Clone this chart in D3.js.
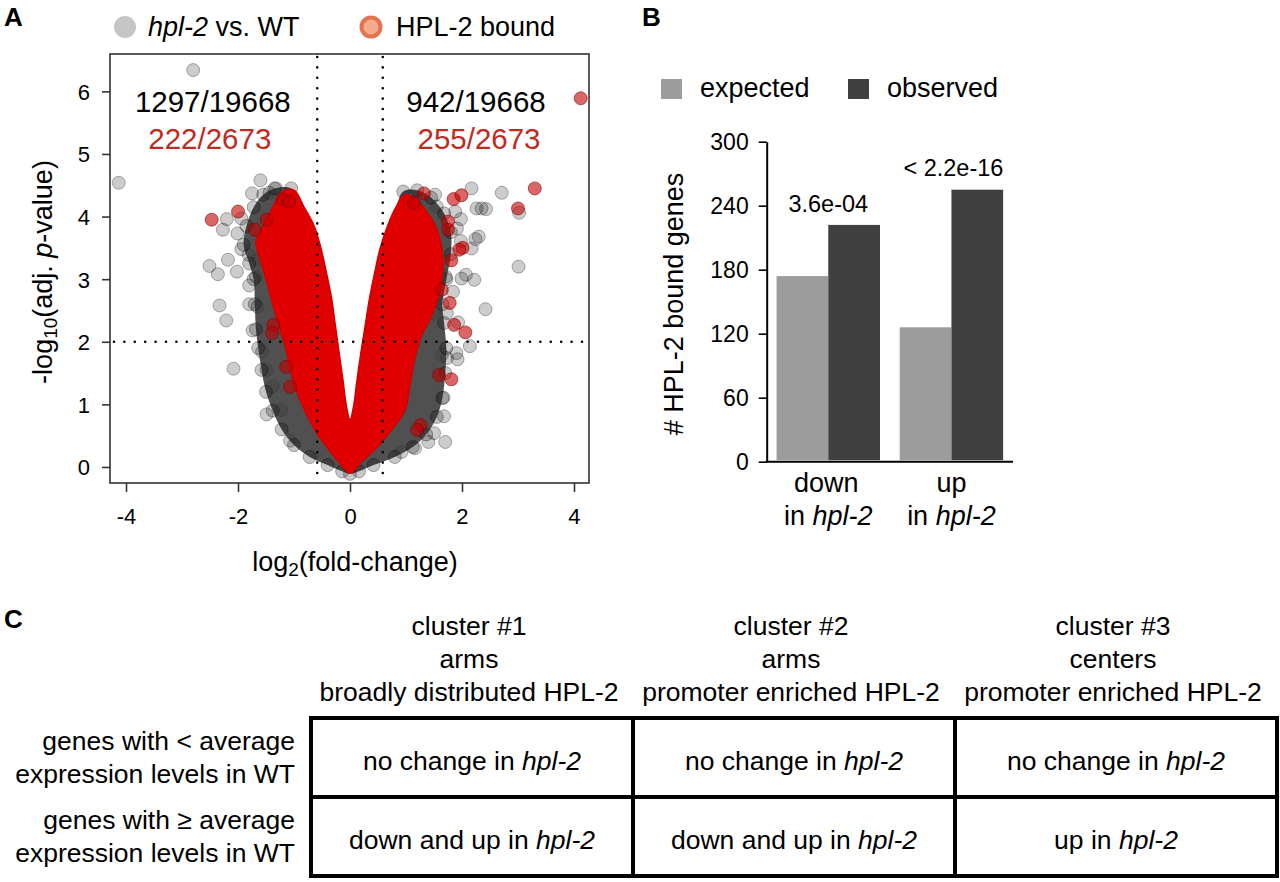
<!DOCTYPE html>
<html>
<head>
<meta charset="utf-8">
<script src="https://cdn.jsdelivr.net/npm/d3@7/dist/d3.min.js"></script>
<style>
  html, body { margin: 0; padding: 0; background: #fff; }
  svg { display: block; font-family: "Liberation Sans", Arial, Helvetica, sans-serif; }
</style>
</head>
<body>
<svg id="chart" width="1280" height="882"></svg>
<script>
// ---------------- Panel A data ----------------
const volcanoXTicks = [-4, -2, 0, 2, 4];
const volcanoYTicks = [0, 1, 2, 3, 4, 5, 6];
const foldThreshold = 0.585;
const pThreshold = 2;

// gray outlier points (log2 FC, -log10 adj p)
const grayX = [-4.13,-2.80,-2.20,-2.27,-1.94,-1.75,-1.60,-1.44,-1.32,-2.01,-1.94,-1.81,-2.51,-2.18,-2.36,-2.02,-1.80,-2.33,-1.80,-2.21,-1.65,-1.68,-1.64,-1.74,-2.08,-1.49,-1.07,-1.57,-1.49,-1.38,-1.23,
  1.52,1.55,2.17,2.71,2.26,2.35,2.43,3.02,3.01,2.42,1.88,1.98,1.91,2.24,2.30,2.17,1.98,2.07,2.22,1.99,1.84,1.73,1.71,1.93,2.14,1.92,1.90,1.67,1.68,1.70,1.50,1.40,1.16,0.92,1.73,1.64,1.49];
const grayY = [4.54,6.34,3.96,3.79,3.97,4.37,4.58,4.38,4.45,3.73,3.48,3.39,3.21,3.31,3.08,3.12,2.90,2.58,2.60,2.34,2.56,3.04,3.31,2.18,1.57,0.84,0.42,1.84,1.55,1.29,0.91,
  4.35,4.16,4.45,4.38,4.13,4.13,4.12,4.06,3.20,2.52,4.08,3.96,3.81,3.64,3.68,3.49,3.61,3.07,2.99,3.01,2.80,2.46,3.04,2.31,1.93,1.72,1.82,1.11,0.81,0.40,0.54,0.40,0.30,0.24,1.74,1.79,2.45];

// red (HPL-2 bound) outlier points
const redX = [-2.47,-2.00,-1.20,-1.09,-1.70,-1.49,-1.37,-1.39,-1.14,-1.07,
  1.32,1.85,1.99,3.30,3.00,1.75,1.75,2.01,1.95,1.81,1.64,1.78,1.14,1.86,2.06,1.59,1.81,1.26,1.20,4.12];
const redY = [3.95,4.08,4.27,4.24,3.79,3.95,2.27,2.14,1.60,1.28,
  4.37,4.28,4.34,4.45,4.13,3.92,3.79,3.50,3.47,3.30,2.83,2.62,4.22,2.27,2.15,1.47,1.40,0.67,0.59,5.89];

// outline of the dense cloud of all genes (dark halo)
const haloX = [-1.05,-1.35,-1.55,-1.72,-1.85,-1.90,-1.80,-1.72,-1.70,-1.68,-1.64,-1.58,-1.50,-1.38,-1.22,-1.00,-0.72,-0.40,-0.14,0.00,
  0.16,0.42,0.80,1.12,1.36,1.55,1.65,1.70,1.72,1.68,1.65,1.72,1.80,1.80,1.68,1.45,1.20,0.95,
  0.82,0.67,0.54,0.44,0.35,0.27,0.19,0.12,0.06,0.00,
  -0.06,-0.12,-0.19,-0.26,-0.33,-0.42,-0.52,-0.64,-0.82];
const haloY = [4.45,4.45,4.35,4.15,3.85,3.55,3.25,3.00,2.60,2.20,1.90,1.55,1.20,0.90,0.60,0.35,0.16,0.03,-0.07,-0.11,
  -0.07,0.03,0.16,0.32,0.52,0.80,1.10,1.50,1.90,2.30,2.60,3.00,3.40,3.75,4.05,4.30,4.42,4.40,
  4.15,3.85,3.50,3.10,2.70,2.25,1.80,1.35,0.95,0.75,
  0.95,1.35,1.80,2.25,2.70,3.10,3.50,3.85,4.15];

// outline of the dense cloud of HPL-2 bound genes (red core)
const coreX = [-1.00,-1.20,-1.38,-1.55,-1.68,-1.60,-1.50,-1.38,-1.25,-1.15,-1.05,-0.95,-0.78,-0.60,-0.40,-0.20,0.00,
  0.20,0.45,0.75,0.98,1.07,1.15,1.28,1.45,1.60,1.66,1.55,1.35,1.15,0.98,
  0.82,0.67,0.54,0.44,0.35,0.27,0.19,0.12,0.06,0.00,
  -0.06,-0.12,-0.19,-0.26,-0.33,-0.42,-0.52,-0.64,-0.82];
const coreY = [4.42,4.40,4.15,3.85,3.60,3.30,3.00,2.60,2.20,1.90,1.50,1.20,0.85,0.55,0.30,0.08,-0.10,
  0.08,0.28,0.60,0.90,1.30,1.70,2.10,2.40,2.80,3.30,3.80,4.10,4.30,4.35,
  4.15,3.85,3.50,3.10,2.70,2.25,1.80,1.35,0.95,0.75,
  0.95,1.35,1.80,2.25,2.70,3.10,3.50,3.85,4.15];

const allCounts = ["1297/19668", "942/19668"];
const boundCounts = ["222/2673", "255/2673"];
const countX = [-2.45, 2.25];

// ---------------- Panel B data ----------------
const barCategories = ["down", "up"];
const barSeries = ["expected", "observed"];
const expectedCounts = [174, 126];
const observedCounts = [222, 255];
const barPValues = ["3.6e-04", "< 2.2e-16"];
const barTicks = [0, 60, 120, 180, 240, 300];

// ---------------- Panel C data ----------------
const clusterNames = ["cluster #1", "cluster #2", "cluster #3"];
const clusterLocations = ["arms", "arms", "centers"];
const clusterPatterns = ["broadly distributed HPL-2", "promoter enriched HPL-2", "promoter enriched HPL-2"];
const rowLabelTop = ["genes with < average", "genes with \u2265 average"];
const rowLabelBottom = ["expression levels in WT", "expression levels in WT"];
const cellPrefix = [["no change in ", "no change in ", "no change in "],
                    ["down and up in ", "down and up in ", "up in "]];
const cellGene = "hpl-2";

// ======================================================
const svg = d3.select("#chart");
const RED_TXT = "#c22a1e";

// panel letters
[["A", 4, 26], ["B", 642, 26], ["C", 4, 628]].forEach(([t, x, y]) => {
  svg.append("text").attr("x", x).attr("y", y).attr("font-size", 26)
    .attr("font-weight", "bold").text(t);
});

// ---------- Panel A ----------
const xA = d3.scaleLinear().domain([-4.286, 4.268]).range([110, 589]);
const yA = d3.scaleLinear().domain([-0.256, 6.597]).range([483, 54]);
const gA = svg.append("g");

// legend
gA.append("circle").attr("cx", 125).attr("cy", 27).attr("r", 11).attr("fill", "#c6c6c6");
const l1 = gA.append("text").attr("x", 148).attr("y", 36).attr("font-size", 27);
l1.append("tspan").attr("font-style", "italic").text("hpl-2");
l1.append("tspan").text(" vs. WT");
gA.append("circle").attr("cx", 371).attr("cy", 27).attr("r", 9.5)
  .attr("fill", "#f4ab8e").attr("stroke", "#e4734f").attr("stroke-width", 4);
gA.append("text").attr("x", 396).attr("y", 36).attr("font-size", 27).text("HPL-2 bound");

const clipA = svg.append("clipPath").attr("id", "clipA");
clipA.append("rect").attr("x", 110).attr("y", 54).attr("width", 479).attr("height", 429);
const plotA = gA.append("g").attr("clip-path", "url(#clipA)");

const ptsLine = d3.line().x(d => xA(d[0])).y(d => yA(d[1])).curve(d3.curveCatmullRomClosed.alpha(0.5));
const haloPts = haloX.map((x, i) => [x, haloY[i]]);
const corePts = coreX.map((x, i) => [x, coreY[i]]);

// gray outliers
plotA.selectAll("circle.gray").data(grayX.map((x, i) => [x, grayY[i]])).join("circle")
  .attr("class", "gray").attr("cx", d => xA(d[0])).attr("cy", d => yA(d[1])).attr("r", 6.5)
  .attr("fill", "rgba(0,0,0,0.2)").attr("stroke", "rgba(0,0,0,0.3)").attr("stroke-width", 1);

// dense halo of all genes
plotA.append("path").attr("d", ptsLine(haloPts))
  .attr("fill", "#333").attr("fill-opacity", 0.86);
// halo edge points
plotA.selectAll("circle.edge").data(haloPts.slice(0, 38)).join("circle")
  .attr("class", "edge").attr("cx", d => xA(d[0])).attr("cy", d => yA(d[1])).attr("r", 6.5)
  .attr("fill", "rgba(0,0,0,0.22)").attr("stroke", "rgba(0,0,0,0.32)");

// red core
plotA.append("path").attr("d", ptsLine(corePts))
  .attr("fill", "#e00000").attr("stroke", "#d40000").attr("stroke-width", 1.5).attr("stroke-linejoin", "round");

// red outliers
plotA.selectAll("circle.red").data(redX.map((x, i) => [x, redY[i]])).join("circle")
  .attr("class", "red").attr("cx", d => xA(d[0])).attr("cy", d => yA(d[1])).attr("r", 6.5)
  .attr("fill", "rgba(195,0,0,0.6)").attr("stroke", "rgba(120,0,0,0.55)").attr("stroke-width", 1);

// threshold dotted lines
const dotStyle = sel => sel.attr("stroke", "#000").attr("stroke-width", 2.6)
  .attr("stroke-dasharray", "0,10.4").attr("stroke-linecap", "round");
[-foldThreshold, foldThreshold].forEach(v => {
  gA.append("line").attr("x1", xA(v)).attr("x2", xA(v)).attr("y1", 57).attr("y2", 481).call(dotStyle);
});
gA.append("line").attr("x1", 114).attr("x2", 587).attr("y1", yA(pThreshold)).attr("y2", yA(pThreshold)).call(dotStyle);

// frame
gA.append("rect").attr("x", 110).attr("y", 54).attr("width", 479).attr("height", 429)
  .attr("fill", "none").attr("stroke", "#333").attr("stroke-width", 1.6);

// axes (hyphen-minus labels, as in the original)
const fmt = d => String(d);
const axXA = gA.append("g").attr("transform", "translate(0,483)")
  .call(d3.axisBottom(xA).tickValues(volcanoXTicks).tickSize(9).tickPadding(9).tickFormat(fmt));
const axYA = gA.append("g").attr("transform", "translate(110,0)")
  .call(d3.axisLeft(yA).tickValues(volcanoYTicks).tickSize(8).tickPadding(12).tickFormat(fmt));
[axXA, axYA].forEach(a => {
  a.select(".domain").remove();
  a.selectAll(".tick line").attr("stroke", "#333").attr("stroke-width", 1.6);
  a.selectAll(".tick text").attr("font-size", 22).attr("fill", "#000")
    .attr("font-family", "'Liberation Sans', Arial, sans-serif");
});
axXA.selectAll(".tick text").attr("dy", "1.05em");
axYA.selectAll(".tick text").attr("dy", "0.36em");

// count annotations
allCounts.forEach((t, i) => {
  gA.append("text").attr("x", xA(countX[i])).attr("y", 112).attr("text-anchor", "middle")
    .attr("font-size", 29.5).text(t);
  gA.append("text").attr("x", xA(countX[i]) + (i === 0 ? -3 : 3)).attr("y", 149).attr("text-anchor", "middle")
    .attr("font-size", 29.5).attr("fill", RED_TXT).text(boundCounts[i]);
});

// axis titles
const xt = gA.append("text").attr("x", 355).attr("y", 571).attr("text-anchor", "middle").attr("font-size", 27);
xt.append("tspan").text("log");
xt.append("tspan").attr("font-size", 19).attr("dy", 5).text("2");
xt.append("tspan").attr("dy", -5).text("(fold-change)");

const yt = gA.append("text").attr("transform", "translate(52,272) rotate(-90)")
  .attr("text-anchor", "middle").attr("font-size", 27);
yt.append("tspan").text("-log");
yt.append("tspan").attr("font-size", 19).attr("dy", 5).text("10");
yt.append("tspan").attr("dy", -5).text("(adj. ");
yt.append("tspan").attr("font-style", "italic").text("p");
yt.append("tspan").text("-value)");

// ---------- Panel B ----------
const gB = svg.append("g");
const colorB = d3.scaleOrdinal().domain(barSeries).range(["#9c9c9c", "#404040"]);
const yB = d3.scaleLinear().domain([0, 300]).range([461.7, 141.7]);
const xB = d3.scaleBand().domain(barCategories).range([766.7, 1013]).paddingInner(0.16).paddingOuter(0.08);
const xSub = d3.scaleBand().domain(barSeries).range([0, xB.bandwidth()]);

// legend
const legX = [661, 848];
barSeries.forEach((s, i) => {
  gB.append("rect").attr("x", legX[i]).attr("y", 79).attr("width", 21).attr("height", 20).attr("fill", colorB(s));
  gB.append("text").attr("x", legX[i] + 39).attr("y", 97).attr("font-size", 27).text(s);
});

const barData = [];
barCategories.forEach((c, i) => {
  barData.push({ cat: c, series: "expected", v: expectedCounts[i] });
  barData.push({ cat: c, series: "observed", v: observedCounts[i] });
});
gB.selectAll("rect.bar").data(barData).join("rect").attr("class", "bar")
  .attr("x", d => xB(d.cat) + xSub(d.series)).attr("width", xSub.bandwidth())
  .attr("y", d => yB(d.v)).attr("height", d => yB(0) - yB(d.v) - 1.5)
  .attr("fill", d => colorB(d.series));

// axes
const axYB = gB.append("g").attr("transform", "translate(766.7,0)")
  .call(d3.axisLeft(yB).tickValues(barTicks).tickSize(8).tickPadding(10).tickSizeOuter(0));
axYB.select(".domain").attr("stroke", "#000").attr("stroke-width", 2);
axYB.selectAll(".tick line").attr("stroke", "#000").attr("stroke-width", 1.6);
axYB.selectAll(".tick text").attr("font-size", 23).attr("fill", "#000")
  .attr("font-family", "'Liberation Sans', Arial, sans-serif").attr("dy", "0.36em");
gB.append("line").attr("x1", 765.7).attr("x2", 1013).attr("y1", yB(0)).attr("y2", yB(0))
  .attr("stroke", "#000").attr("stroke-width", 2);

// p-values and category labels
const pY = [212, 176];
barCategories.forEach((c, i) => {
  gB.append("text").attr("x", xB(c) + xB.bandwidth() / 2 + (i === 0 ? 0 : 2)).attr("y", pY[i])
    .attr("text-anchor", "middle").attr("font-size", 23.5).text(barPValues[i]);
  gB.append("text").attr("x", xB(c) + xB.bandwidth() / 2 - (i === 0 ? 2 : 0)).attr("y", 492)
    .attr("text-anchor", "middle").attr("font-size", 27).text(c);
  const t2 = gB.append("text").attr("x", xB(c) + xB.bandwidth() / 2).attr("y", 525)
    .attr("text-anchor", "middle").attr("font-size", 27);
  t2.append("tspan").text("in ");
  t2.append("tspan").attr("font-style", "italic").text("hpl-2");
});

gB.append("text").attr("transform", "translate(683,304) rotate(-90)").attr("text-anchor", "middle")
  .attr("font-size", 27).text("# HPL-2 bound genes");

// ---------- Panel C ----------
const gC = svg.append("g");
const colC = d3.scaleBand().domain(clusterNames).range([311, 1277]);
const rowC = d3.scaleBand().domain([0, 1]).range([718, 876]);
const FS_C = 26.5;

clusterNames.forEach((c, i) => {
  const cx = colC(c) + colC.bandwidth() / 2 - 3;
  [[c, 635], [clusterLocations[i], 668], [clusterPatterns[i], 701]].forEach(([t, y]) => {
    gC.append("text").attr("x", cx).attr("y", y).attr("text-anchor", "middle").attr("font-size", FS_C).text(t);
  });
});

[0, 1].forEach(r => {
  const cy = rowC(r) + rowC.bandwidth() / 2;
  gC.append("text").attr("x", 295).attr("y", cy - 8).attr("text-anchor", "end").attr("font-size", FS_C).text(rowLabelTop[r]);
  gC.append("text").attr("x", 295).attr("y", cy + 25).attr("text-anchor", "end").attr("font-size", FS_C).text(rowLabelBottom[r]);
  clusterNames.forEach((c, j) => {
    const t = gC.append("text").attr("x", colC(c) + colC.bandwidth() / 2).attr("y", cy + 12)
      .attr("text-anchor", "middle").attr("font-size", FS_C);
    t.append("tspan").text(cellPrefix[r][j]);
    t.append("tspan").attr("font-style", "italic").text(cellGene);
  });
});

// grid lines
gC.append("rect").attr("x", 311).attr("y", 718).attr("width", 966).attr("height", 158)
  .attr("fill", "none").attr("stroke", "#000").attr("stroke-width", 4);
clusterNames.slice(1).forEach(c => {
  gC.append("line").attr("x1", colC(c)).attr("x2", colC(c)).attr("y1", 718).attr("y2", 876)
    .attr("stroke", "#000").attr("stroke-width", 4);
});
gC.append("line").attr("x1", 311).attr("x2", 1277).attr("y1", rowC(1)).attr("y2", rowC(1))
  .attr("stroke", "#000").attr("stroke-width", 4);
</script>
</body>
</html>
